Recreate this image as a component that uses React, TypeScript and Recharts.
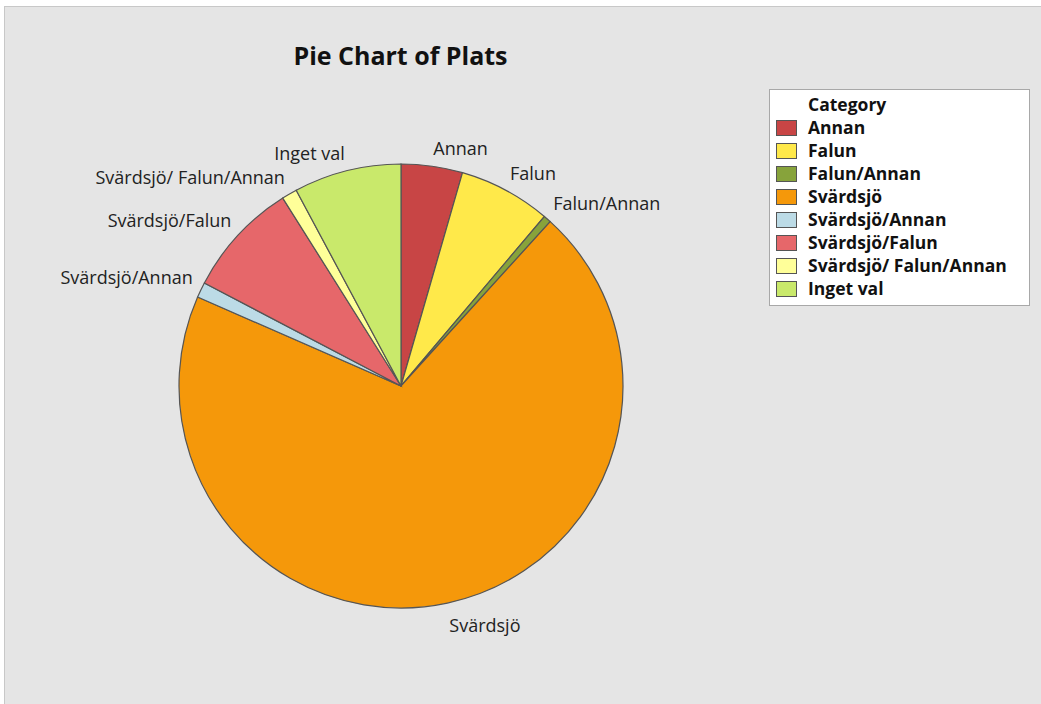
import React from "react";
import { PieChart, Pie, Cell, Legend } from "recharts";

const categories = [
  "Annan",
  "Falun",
  "Falun/Annan",
  "Svärdsjö",
  "Svärdsjö/Annan",
  "Svärdsjö/Falun",
  "Svärdsjö/ Falun/Annan",
  "Inget val",
];
const counts = [8, 12, 1, 125, 2, 15, 2, 14];
const colors = [
  "#c84545",
  "#ffe94a",
  "#87a33b",
  "#f5980a",
  "#bcdbe6",
  "#e6676a",
  "#ffff99",
  "#c9e96b",
];
const chartTitle = "Pie Chart of Plats";
const legendTitle = "Category";

const data = categories.map((name, i) => ({ name, value: counts[i] }));

const FONT = "'Open Sans', 'Noto Sans', sans-serif";
const RADIAN = Math.PI / 180;

const renderLabel = (props: any) => {
  const { cx, cy, midAngle, outerRadius, name } = props;
  const r = outerRadius + 9;
  const px = cx + r * Math.cos(-midAngle * RADIAN);
  const py = cy + r * Math.sin(-midAngle * RADIAN);
  const y = py < cy ? py - 9 : py + 13;
  return (
    <text
      x={px}
      y={y}
      fill="#222"
      fontSize={18}
      fontFamily={FONT}
      textAnchor={px >= cx ? "start" : "end"}
      dominantBaseline="central"
    >
      {name}
    </text>
  );
};

const LegendBox = () => (
  <div
    style={{
      background: "#fff",
      border: "1px solid #a8a8a8",
      width: 261,
      height: 217,
      boxSizing: "border-box",
      padding: "3px 0 0 6px",
      fontFamily: FONT,
      fontWeight: 700,
      fontSize: 17.5,
      color: "#111",
    }}
  >
    <div style={{ height: 23, lineHeight: "23px", paddingLeft: 32 }}>{legendTitle}</div>
    {categories.map((c, i) => (
      <div key={c} style={{ display: "flex", alignItems: "center", height: 23 }}>
        <div
          style={{
            width: 21,
            height: 16,
            background: colors[i],
            border: "1px solid #555",
            boxSizing: "border-box",
            marginRight: 11,
            flexShrink: 0,
          }}
        />
        <span style={{ lineHeight: "23px", whiteSpace: "nowrap" }}>{c}</span>
      </div>
    ))}
  </div>
);

export default function App() {
  return (
    <div
      style={{
        position: "absolute",
        left: 0,
        top: 0,
        width: 1041,
        height: 704,
        background: "#fff",
        overflow: "hidden",
      }}
    >
      <div
        style={{
          position: "absolute",
          left: 4,
          top: 6,
          width: 1050,
          height: 710,
          background: "#e5e5e5",
          border: "1px solid #c8c8c8",
          boxSizing: "border-box",
        }}
      />
      <div
        style={{
          position: "absolute",
          left: 200,
          top: 38,
          width: 401,
          textAlign: "center",
          fontFamily: FONT,
          fontWeight: 700,
          fontSize: 25,
          lineHeight: "34px",
          color: "#111",
        }}
      >
        {chartTitle}
      </div>
      <div style={{ position: "absolute", left: 0, top: 0 }}>
        <PieChart width={1041} height={704} margin={{ top: 0, right: 0, bottom: 0, left: 0 }}>
          <Pie
            data={data}
            dataKey="value"
            nameKey="name"
            cx={401}
            cy={386}
            outerRadius={222}
            startAngle={90}
            endAngle={-270}
            stroke="#555"
            strokeWidth={1.2}
            label={renderLabel}
            labelLine={false}
            isAnimationActive={false}
          >
            {data.map((d, i) => (
              <Cell key={d.name} fill={colors[i]} />
            ))}
          </Pie>
          <Legend
            content={<LegendBox />}
            wrapperStyle={{ position: "absolute", left: 769, top: 89, width: 261 }}
          />
        </PieChart>
      </div>
    </div>
  );
}
